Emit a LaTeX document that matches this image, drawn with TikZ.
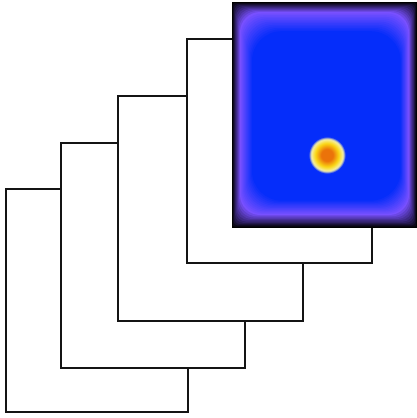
\documentclass[tikz,border=0pt]{standalone}
\usetikzlibrary{calc}
\definecolor{linec}{RGB}{20,20,20}
\definecolor{purp}{RGB}{120,80,255}
\definecolor{blu}{RGB}{5,45,250}
\definecolor{orng}{RGB}{235,115,10}
\definecolor{yell}{RGB}{250,215,20}
\definecolor{pale}{RGB}{245,240,170}
\pgfdeclareradialshading{blob}{\pgfpoint{0bp}{0bp}}{color(0bp)=(orng); color(7bp)=(orng); color(14bp)=(yell); color(19bp)=(pale); color(22bp)=(blu); color(25bp)=(blu); color(50bp)=(blu)}
\begin{document}
\begin{tikzpicture}[x=1pt,y=-1pt,
  frame/.style={draw=linec, line width=2.4pt, fill=white, inner sep=0pt, outer sep=0pt}]
\useasboundingbox (0,0) rectangle (417,418);
\fill[white] (0,0) rectangle (417,418);
\node[frame, minimum width=182pt, minimum height=223pt] (f1) at (97,300.5) {};
\node[frame, minimum width=184pt, minimum height=225pt] (f2) at (153,255.5) {};
\node[frame, minimum width=185pt, minimum height=225pt] (f3) at (210.5,208.5) {};
\node[frame, minimum width=185pt, minimum height=224pt] (f4) at (279.5,151) {};
\node[fill=black, inner sep=0pt, outer sep=0pt, minimum width=185pt, minimum height=226pt] (img) at (324.5,115) {};
\foreach \i in {0,...,10}{
  \pgfmathsetmacro\p{\i*10}
  \fill[purp!\p!black, rounded corners=\i*2pt]
    ($(img.north west)+(\i*0.8,\i*1.0)$) rectangle ($(img.south east)+(-\i*0.8,-\i*1.3)$);
}
\foreach \j in {1,...,12}{
  \pgfmathsetmacro\q{\j/12*100}
  \fill[blu!\q!purp, rounded corners=20pt+\j*0.8pt]
    ($(img.north west)+(8+\j*1.0,10+\j*1.6)$) rectangle ($(img.south east)+(-8-\j*0.7,-13-\j*1.2)$);
}
\shade[shading=blob] (327,155) circle (21);
\end{tikzpicture}
\end{document}
